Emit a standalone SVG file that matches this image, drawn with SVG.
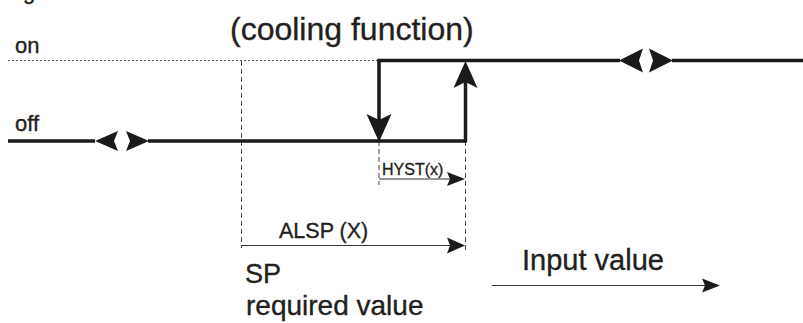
<svg xmlns="http://www.w3.org/2000/svg" width="803" height="323" viewBox="0 0 803 323">
<style>
  text { font-family: "Liberation Sans", Arial, sans-serif; fill: #231f20; stroke: #231f20; stroke-width: 0.35; }
  .thick { stroke: #1c1a19; stroke-width: 3.5; fill: none; }
  .thin { stroke: #333; stroke-width: 1.2; fill: none; }
  .dash { stroke: #444; stroke-width: 1; stroke-dasharray: 5 3; fill: none; }
  .dot { stroke: #555; stroke-width: 1; stroke-dasharray: 2 2; fill: none; }
  .head { fill: #1c1a19; }
</style>
<rect width="803" height="323" fill="#ffffff"/>
<g id="labels">
  <text x="23" y="-1" font-size="22">g</text>
  <text x="15" y="53" font-size="22">on</text>
  <text x="15" y="131" font-size="22">off</text>
  <text x="230" y="40" font-size="32">(cooling function)</text>
  <text x="382" y="175" font-size="16" stroke-width="0.2">HYST(x)</text>
  <text x="279" y="238" font-size="21.5">ALSP (X)</text>
  <text x="245" y="283" font-size="27">SP</text>
  <text x="246" y="315" font-size="28">required value</text>
  <text x="522" y="270" font-size="29">Input value</text>
</g>
<g id="connectors">
  <line class="dot" x1="8" y1="60.5" x2="378" y2="60.5"/>
  <line class="dash" x1="241.5" y1="61" x2="241.5" y2="248"/>
  <line class="dash" x1="379" y1="141" x2="379" y2="185"/>
  <line class="dash" x1="465.5" y1="141" x2="465.5" y2="252"/>
  <line class="thick" x1="8" y1="141" x2="95" y2="141"/>
  <line class="thick" x1="148" y1="141" x2="466" y2="141"/>
  <polyline class="thick" points="379,132 379,60.5 620,60.5"/>
  <line class="thick" x1="672" y1="60.5" x2="803" y2="60.5"/>
  <line class="thick" x1="465.5" y1="142.5" x2="465.5" y2="75"/>
  <path class="head" d="M95,141 L118,131 L114,141 L118,151 Z"/>
  <path class="head" d="M149,141 L126,131 L130,141 L126,151 Z"/>
  <path class="head" d="M619,60.5 L643,48.5 L639,60.5 L643,72.5 Z"/>
  <path class="head" d="M673,60.5 L649,48.5 L653,60.5 L649,72.5 Z"/>
  <path class="head" d="M379,142 L366.5,114 L379,120 L391.5,114 Z"/>
  <path class="head" d="M465.5,61 L453.5,88 L465.5,82 L477.5,88 Z"/>
  <line class="thin" x1="379" y1="179" x2="450" y2="179"/>
  <path class="head" d="M465,179 L447,172 L450,179 L447,186 Z"/>
  <line class="thin" x1="241" y1="245.5" x2="450" y2="245.5" stroke-width="1.6"/>
  <path class="head" d="M465,245.5 L447,237.5 L450,245.5 L447,253.5 Z"/>
  <line class="thin" x1="492" y1="285.5" x2="705" y2="285.5"/>
  <path class="head" d="M720,285.5 L702,278.5 L705,285.5 L702,292.5 Z"/>
</g>
</svg>
